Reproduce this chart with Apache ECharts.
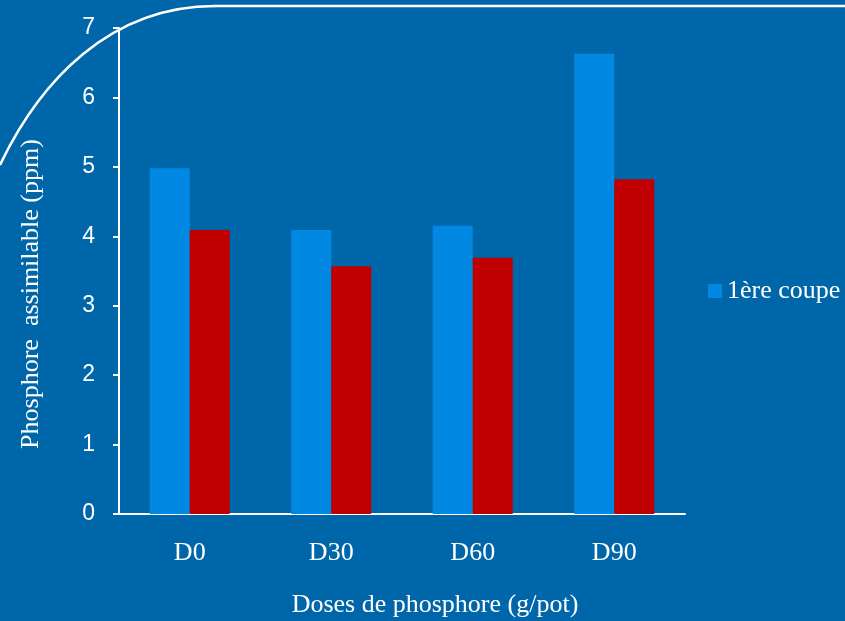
<!DOCTYPE html>
<html>
<head>
<meta charset="utf-8">
<script src="https://cdn.jsdelivr.net/npm/echarts@6/dist/echarts.min.js"></script>
<style>
html,body{margin:0;padding:0;background:#0066AA;}
#chart{width:845px;height:621px;}
</style>
</head>
<body>
<div id="chart"></div>
<script>
// Available phosphorus by dose, two harvests
const categories = ['D0', 'D30', 'D60', 'D90'];
const coupe1 = [4.98, 4.09, 4.15, 6.63];
const coupe2 = [4.09, 3.57, 3.69, 4.82];
const yTicks = [0, 1, 2, 3, 4, 5, 6, 7];

const chart = echarts.init(document.getElementById('chart'), null, {renderer: 'canvas'});
const serif = '"Liberation Serif", "Times New Roman", serif';
const sans = '"Liberation Sans", Arial, sans-serif';

chart.setOption({
  backgroundColor: '#0066AA',
  animation: false,
  grid: {left: 119, right: 160, top: 28, bottom: 107, containLabel: false, outerBoundsMode: 'none'},
  legend: {
    data: ['1ère coupe'],
    left: 703, top: 273,
    orient: 'vertical',
    itemWidth: 14, itemHeight: 14, itemGap: 8,
    icon: 'rect',
    textStyle: {color: '#fff', fontFamily: serif, fontSize: 26}
  },
  xAxis: {
    type: 'category',
    data: categories,
    name: 'Doses de phosphore (g/pot)',
    nameLocation: 'middle',
    nameGap: 78,
    nameTextStyle: {color: '#fff', fontFamily: serif, fontSize: 26, padding: [0, 0, 0, 66]},
    axisLine: {lineStyle: {color: '#fff', width: 2}},
    axisTick: {show: false},
    axisLabel: {color: '#fff', fontFamily: serif, fontSize: 26, margin: 26}
  },
  yAxis: {
    type: 'value',
    min: yTicks[0], max: yTicks[yTicks.length - 1], interval: 1,
    name: 'Phosphore  assimilable (ppm)',
    nameLocation: 'middle',
    nameGap: 75,
    nameTextStyle: {color: '#fff', fontFamily: serif, fontSize: 26, padding: [0, 46, 0, 0]},
    axisLine: {show: true, lineStyle: {color: '#fff', width: 2}},
    axisTick: {show: true, length: 6, lineStyle: {color: '#fff', width: 2}},
    axisLabel: {color: '#fff', fontFamily: sans, fontSize: 23, margin: 24},
    splitLine: {show: false}
  },
  series: [
    {
      name: '1ère coupe', type: 'bar', data: coupe1,
      barWidth: 40, barGap: '0%',
      itemStyle: {color: '#0088E2'}
    },
    {
      name: '2ème coupe', type: 'bar', data: coupe2,
      barWidth: 40,
      itemStyle: {color: '#C00000'}
    }
  ],
  graphic: [
    {
      type: 'bezierCurve',
      shape: {x1: 0, y1: 165, cpx1: 40, cpy1: 81, cpx2: 110, cpy2: 6, x2: 215, y2: 6},
      style: {stroke: '#fff', lineWidth: 2.5, fill: null},
      z: 100
    },
    {
      type: 'line',
      shape: {x1: 214, y1: 6, x2: 845, y2: 6},
      style: {stroke: '#fff', lineWidth: 2.5},
      z: 100
    }
  ]
});
</script>
</body>
</html>
